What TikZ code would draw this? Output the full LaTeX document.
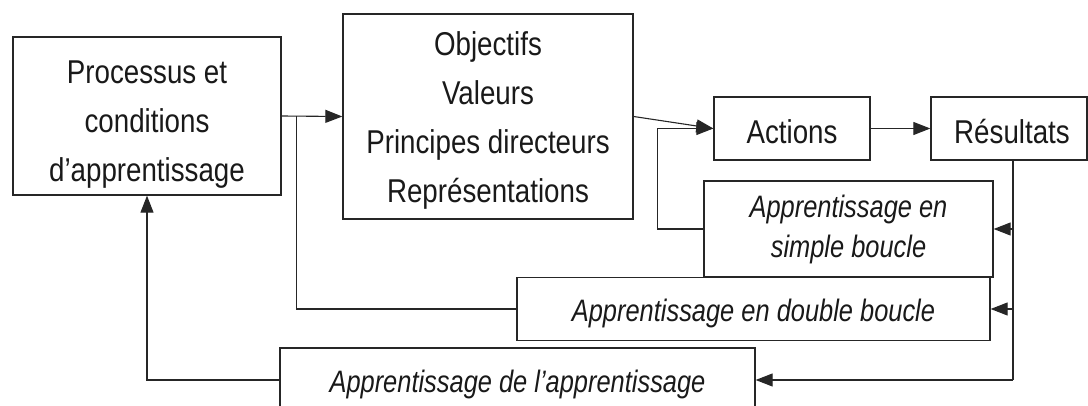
\documentclass[tikz,border=0pt]{standalone}
\usepackage{fontspec}
\setmainfont{Liberation Sans}
\newfontfamily\regfont[FakeStretch=0.84]{Liberation Sans}
\newfontfamily\itafont[FakeStretch=0.82]{Liberation Sans}
\usetikzlibrary{arrows.meta,calc}
\begin{document}
\begin{tikzpicture}[x=1pt,y=-1pt,
  box/.style={draw=black!85,line width=1.3pt,rectangle,inner sep=0pt},
  txt/.style={inner sep=0pt,align=center,text=black!90,
    font=\regfont\fontsize{33}{49}\selectfont},
  itxt/.style={txt,font=\itafont\itshape\fontsize{31}{40}\selectfont},
  conn/.style={draw=black!85,line width=1.1pt},
  arr/.style={conn,-{Triangle[length=17pt,width=13pt]}}]
\path[use as bounding box] (0,0) rectangle (1088,406);
\clip (0,0) rectangle (1088,406);
\node[box,minimum width=268pt,minimum height=158pt] (p1) at (147,116) {};
\node[box,minimum width=290pt,minimum height=205pt] (p2) at (488,116.5) {};
\node[box,minimum width=156pt,minimum height=63pt] (act) at (792,128.5) {};
\node[box,minimum width=156pt,minimum height=63pt] (res) at (1009,128.5) {};
\node[box,minimum width=289pt,minimum height=96pt] (simple) at (848.5,229) {};
\node[box,minimum width=473pt,minimum height=63pt] (double) at (753.5,309) {};
\node[box,minimum width=475pt,minimum height=64pt] (bot) at (517.5,380) {};
\node[txt] (p1t) at ([yshift=-9pt]p1.center) {Processus et\\conditions\\d’apprentissage};
\node[txt] (p2t) at ([yshift=-4pt]p2.center) {Objectifs\\Valeurs\\Principes directeurs\\Représentations};
\node[txt] (actt) at ([yshift=-3pt]act.center) {Actions};
\node[txt] (rest) at ([yshift=-3pt,xshift=3pt]res.center) {Résultats};
\node[itxt] (simplet) at (simple.center) {Apprentissage en\\simple boucle};
\node[itxt] (doublet) at ([yshift=-4pt]double.center) {Apprentissage en double boucle};
\node[itxt] (bott) at ([yshift=-4pt]bot.center) {Apprentissage de l’apprentissage};
\coordinate (r0) at ([xshift=4pt]res.south);
\coordinate (j1) at ([xshift=15pt]p1.east);
\draw[arr] (p1.east) -- (p2.west);
\draw[arr] (p2.east) -- (act.west);
\draw[arr] (act.east) -- (res.west);
\draw[conn] (r0) -- (r0 |- bot.east);
\draw[arr] (r0 |- simple.east) -- (simple.east);
\draw[arr] (r0 |- double.east) -- (double.east);
\draw[arr] (r0 |- bot.east) -- (bot.east);
\draw[arr] (simple.west) -- ++(-46,0) |- (act.west);
\draw[conn] (double.west) -| (j1);
\draw[arr] (bot.west) -| (p1.south);
\end{tikzpicture}
\end{document}
